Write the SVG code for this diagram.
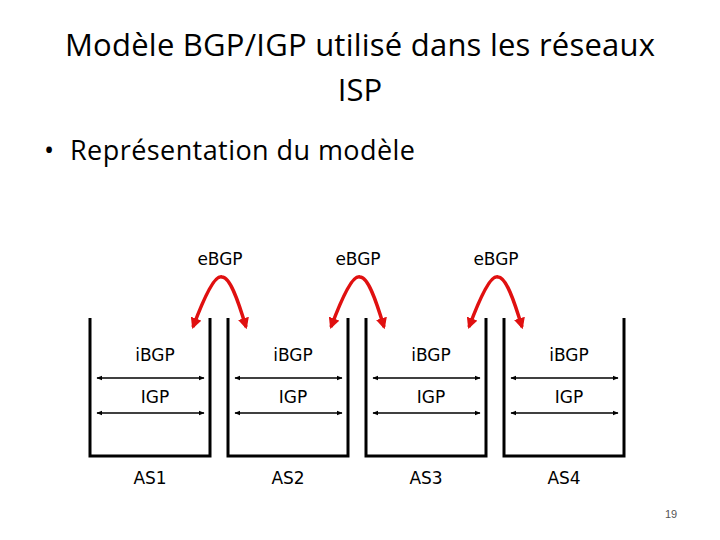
<svg xmlns="http://www.w3.org/2000/svg" width="720" height="540" viewBox="0 0 720 540">
<defs>
<marker id="a" viewBox="0 0 10 10" refX="9" refY="5" markerWidth="4" markerHeight="4" orient="auto-start-reverse"><path d="M0,1 L10,5 L0,9 z" fill="#000"/></marker>
<marker id="r" viewBox="0 0 10 10" refX="8" refY="5" markerWidth="3.2" markerHeight="3.2" orient="auto-start-reverse"><path d="M0,0 L10,5 L0,10 z" fill="#e01010"/></marker>
</defs>
<style>
.t{font-family:"DejaVu Sans",Verdana,sans-serif;font-size:17px;text-anchor:middle;fill:#000}
.h{font-family:"Open Sans","DejaVu Sans",sans-serif;fill:#000}
.box{fill:none;stroke:#000;stroke-width:3}
.l{stroke:#000;stroke-width:1.5;marker-start:url(#a);marker-end:url(#a)}
.e{fill:none;stroke:#e01010;stroke-width:3.5;marker-start:url(#r);marker-end:url(#r)}
</style>
<text class="h" x="360" y="56" font-size="31" text-anchor="middle" textLength="590">Modèle BGP/IGP utilisé dans les réseaux</text>
<text class="h" x="360" y="101" font-size="31" text-anchor="middle">ISP</text>
<text class="h" x="44" y="160" font-size="27">•</text>
<text class="h" x="70" y="160" font-size="27" textLength="345">Représentation du modèle</text>
<g id="as1"><path class="box" d="M90,318 V456 H210 V318"/><text class="t" x="155" y="361">iBGP</text><text class="t" x="155" y="403">IGP</text><text class="t" x="150" y="484">AS1</text></g>
<g id="as2"><path class="box" d="M228,318 V456 H348 V318"/><text class="t" x="293" y="361">iBGP</text><text class="t" x="293" y="403">IGP</text><text class="t" x="288" y="484">AS2</text></g>
<g id="as3"><path class="box" d="M366,318 V456 H486 V318"/><text class="t" x="431" y="361">iBGP</text><text class="t" x="431" y="403">IGP</text><text class="t" x="426" y="484">AS3</text></g>
<g id="as4"><path class="box" d="M504,318 V456 H624 V318"/><text class="t" x="569" y="361">iBGP</text><text class="t" x="569" y="403">IGP</text><text class="t" x="564" y="484">AS4</text></g>
<g id="labels"><text class="t" x="220" y="265">eBGP</text><text class="t" x="358" y="265">eBGP</text><text class="t" x="496" y="265">eBGP</text></g>
<g id="connectors">
<line class="l" x1="97" y1="378" x2="204" y2="378"/><line class="l" x1="97" y1="413" x2="204" y2="413"/>
<line class="l" x1="235" y1="378" x2="342" y2="378"/><line class="l" x1="235" y1="413" x2="342" y2="413"/>
<line class="l" x1="373" y1="378" x2="480" y2="378"/><line class="l" x1="373" y1="413" x2="480" y2="413"/>
<line class="l" x1="511" y1="378" x2="618" y2="378"/><line class="l" x1="511" y1="413" x2="618" y2="413"/>
<path class="e" d="M193,327 C205,295 215,275 222,277 C230,277 238,300 246,327"/>
<path class="e" d="M331,327 C343,295 353,275 360,277 C368,277 376,300 384,327"/>
<path class="e" d="M469,327 C481,295 491,275 498,277 C506,277 514,300 522,327"/>
</g>
<text x="671" y="518" font-family="Liberation Sans,sans-serif" font-size="11" text-anchor="middle" fill="#555">19</text>
</svg>
